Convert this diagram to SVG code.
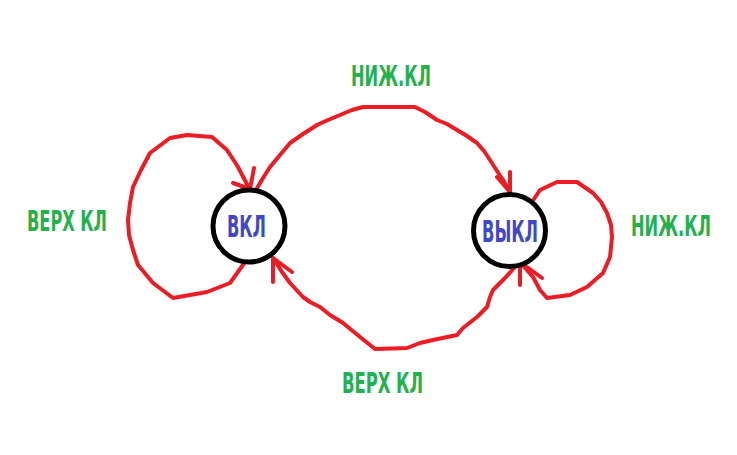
<svg xmlns="http://www.w3.org/2000/svg" width="737" height="455" viewBox="0 0 737 455">
<style>
.edge{fill:none;stroke:#ed1c24;stroke-width:4;stroke-linejoin:round;stroke-linecap:round}
.node{fill:#fff;stroke:#000;stroke-width:5}
.st{font-family:"Liberation Sans Narrow","DejaVu Sans Condensed","Liberation Sans",sans-serif;font-weight:bold;fill:#3f48cc;font-size:31px}
.lbl{font-family:"Liberation Sans Narrow","DejaVu Sans Condensed","Liberation Sans",sans-serif;font-weight:bold;fill:#22b14c;font-size:29px}
</style>
<rect width="737" height="455" fill="#fff"/>
<g id="connectors">
<g id="loop-on">
<polyline class="edge" points="245,262 230,283 207,292 173,298 153,283 138,265 133,250 129,235 128,220 130,203 133,187 141,170 150,153 170,138 187,135 212,137 227,150 238,167 250,190"/>
<polyline class="edge" points="233,183 250,189"/>
<polyline class="edge" points="254,168 250,189"/>
</g>
<g id="on-to-off">
<polyline class="edge" points="256,190 263,178 270,167 280,155 290,143 303,134 317,125 328,120 340,115 352,110 363,107 415,107 425,112 437,120 447,124 457,130 467,136 477,143 484,151 490,160 497,171 503,180 510,192"/>
<polyline class="edge" points="497,177 510,192"/>
<polyline class="edge" points="510,172 510,192"/>
</g>
<g id="off-to-on">
<polyline class="edge" points="515,267 505,278 493,290 490,297 487,307 477,317 463,328 457,335 433,340 420,343 407,348 375,349 360,337 343,323 330,315 320,307 310,302 303,297 290,283 282,272 273,258"/>
<polyline class="edge" points="273,258 273,282"/>
<polyline class="edge" points="273,258 292,272"/>
</g>
<g id="loop-off">
<polyline class="edge" points="532,202 540,190 557,182 577,182 593,193 601,202 607,213 611,225 612,237 610,257 603,273 587,287 570,295 547,298 540,290 533,277 520,262"/>
<polyline class="edge" points="520,258 520,285"/>
<polyline class="edge" points="520,262 542,278"/>
</g>
</g>
<g id="node-on">
<circle class="node" cx="249" cy="226" r="36"/>
<text class="st" x="227" y="237" textLength="39" lengthAdjust="spacingAndGlyphs">ВКЛ</text>
</g>
<g id="node-off">
<circle class="node" cx="509.5" cy="230.5" r="36"/>
<text class="st" x="482" y="242" textLength="56" lengthAdjust="spacingAndGlyphs">ВЫКЛ</text>
</g>
<g id="labels">
<text class="lbl" x="27" y="231" textLength="80" lengthAdjust="spacingAndGlyphs">ВЕРХ КЛ</text>
<text class="lbl" x="351" y="86" textLength="80" lengthAdjust="spacingAndGlyphs">НИЖ.КЛ</text>
<text class="lbl" x="631" y="236" textLength="80" lengthAdjust="spacingAndGlyphs">НИЖ.КЛ</text>
<text class="lbl" x="342" y="393" textLength="81" lengthAdjust="spacingAndGlyphs">ВЕРХ КЛ</text>
</g>
</svg>
